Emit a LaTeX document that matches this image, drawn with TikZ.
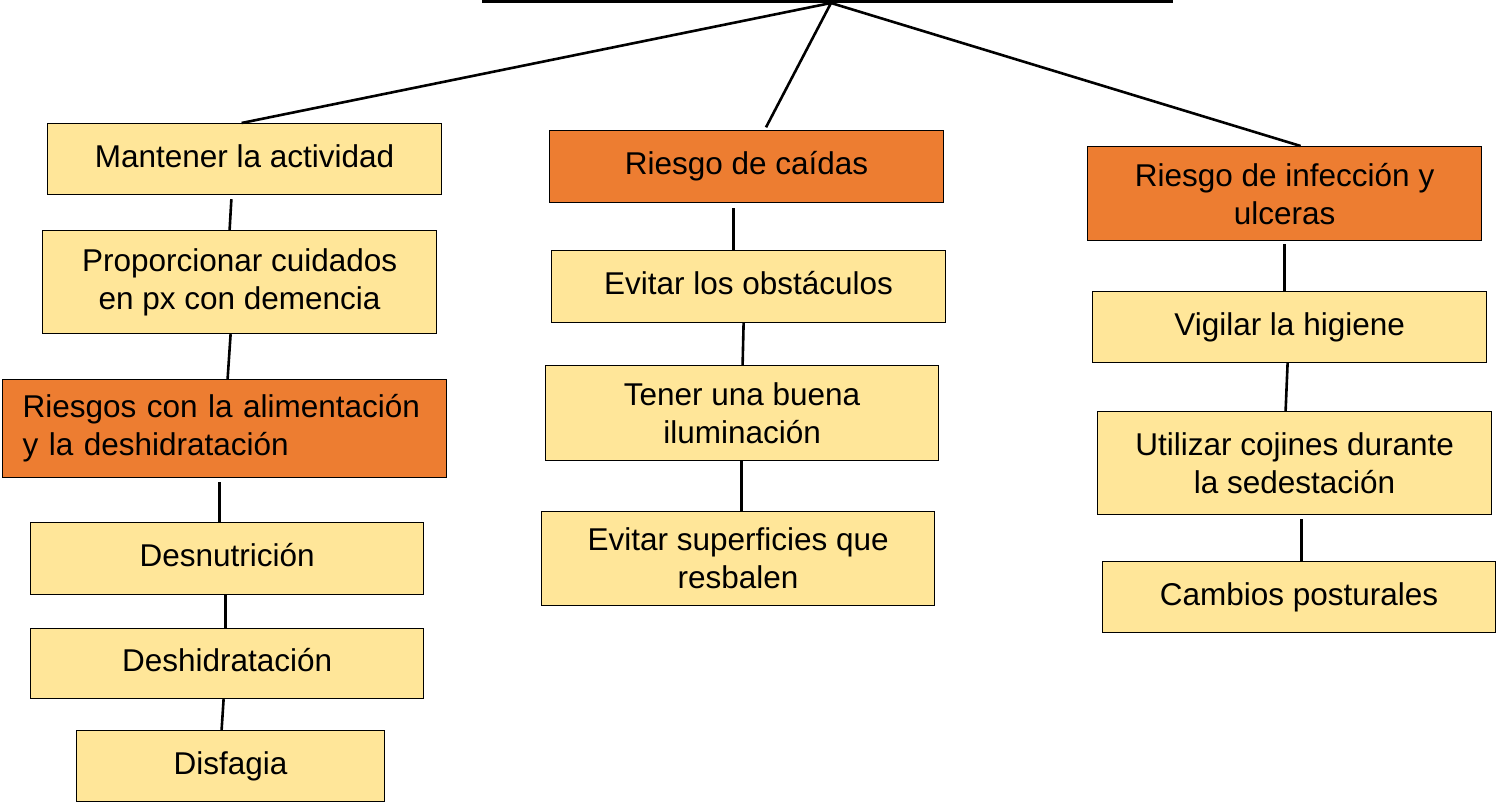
\documentclass[tikz,border=0pt]{standalone}
\usepackage{fontspec}
\setmainfont{Liberation Sans}
\definecolor{boxyellow}{HTML}{FFE699}
\definecolor{boxorange}{HTML}{ED7D31}
\begin{document}
\begin{tikzpicture}[x=1pt,y=-1pt,
  box/.style={draw=black, line width=1.2pt, fill=boxyellow, rectangle, anchor=north west,
    align=center, inner sep=0pt, font=\fontsize{31.5}{38}\selectfont},
  obox/.style={box, fill=boxorange},
  conn/.style={line width=2.6pt, line cap=butt}]
\useasboundingbox (0,0) rectangle (1496,805);
% left column
\node[box, minimum width=394, minimum height=71] (m1) at (47,123) {Mantener la actividad\vphantom{p}};
\node[box, minimum width=394, minimum height=103] (m2) at (42,230) {Proporcionar cuidados\\en px con demencia};
\node[obox, minimum width=444, minimum height=98, align=left, text width=404] (m3) at (2,379) {Riesgos con la alimentación\\y la deshidratación};
\node[box, minimum width=393, minimum height=72] (m4) at (30,522) {Desnutrición\vphantom{p}};
\node[box, minimum width=393, minimum height=70] (m5) at (30,628) {Deshidratación\vphantom{p}};
\node[box, minimum width=308, minimum height=71] (m6) at (76,730) {Disfagia};
% middle column
\node[obox, minimum width=394, minimum height=72] (c1) at (549,130) {Riesgo de caídas};
\node[box, minimum width=394, minimum height=72] (c2) at (551,250) {Evitar los obstáculos\vphantom{p}};
\node[box, minimum width=393, minimum height=95] (c3) at (545,365) {Tener una buena\\iluminación};
\node[box, minimum width=393, minimum height=94] (c4) at (541,511) {Evitar superficies que\\resbalen};
% right column
\node[obox, minimum width=394, minimum height=94] (r1) at (1087,146) {Riesgo de infección y\\ulceras};
\node[box, minimum width=394, minimum height=71] (r2) at (1092,291) {Vigilar la higiene};
\node[box, minimum width=394, minimum height=103] (r3) at (1097,411) {Utilizar cojines durante\\la sedestación};
\node[box, minimum width=393, minimum height=71] (r4) at (1102,561) {Cambios posturales};
% top line
\coordinate (tl) at (482,1.5);
\coordinate (tr) at (1173,1.5);
\coordinate (apex) at (831,3);
\draw[conn] (tl) -- (tr);
\draw[conn] (apex) -- ([xshift=-3]m1.north);
\draw[conn, shorten >=3pt] (apex) -- ([xshift=18]c1.north);
\draw[conn] (apex) -- ([xshift=16]r1.north);
% vertical connectors
\draw[conn, shorten <=4pt] ([xshift=-13]m1.south) -- ([xshift=-10]m2.north);
\draw[conn] ([xshift=-9]m2.south) -- ([xshift=3]m3.north);
\draw[conn, shorten <=4pt] ([xshift=-5]m3.south) -- ([xshift=-7.5]m4.north);
\draw[conn] ([xshift=-1.5]m4.south) -- ([xshift=-1.5]m5.north);
\draw[conn] ([xshift=-3.5]m5.south) -- ([xshift=-9]m6.north);
\draw[conn, shorten <=5pt] ([xshift=-13]c1.south) -- ([xshift=-15]c2.north);
\draw[conn] ([xshift=-5]c2.south) -- ([xshift=0.5]c3.north);
\draw[conn] ([xshift=-0.5]c3.south) -- ([xshift=3.5]c4.north);
\draw[conn, shorten <=3pt] (r1.south) -- ([xshift=-5]r2.north);
\draw[conn] ([xshift=-2]r2.south) -- ([xshift=-9]r3.north);
\draw[conn, shorten <=4pt] ([xshift=7]r3.south) -- ([xshift=2.5]r4.north);
\end{tikzpicture}
\end{document}
